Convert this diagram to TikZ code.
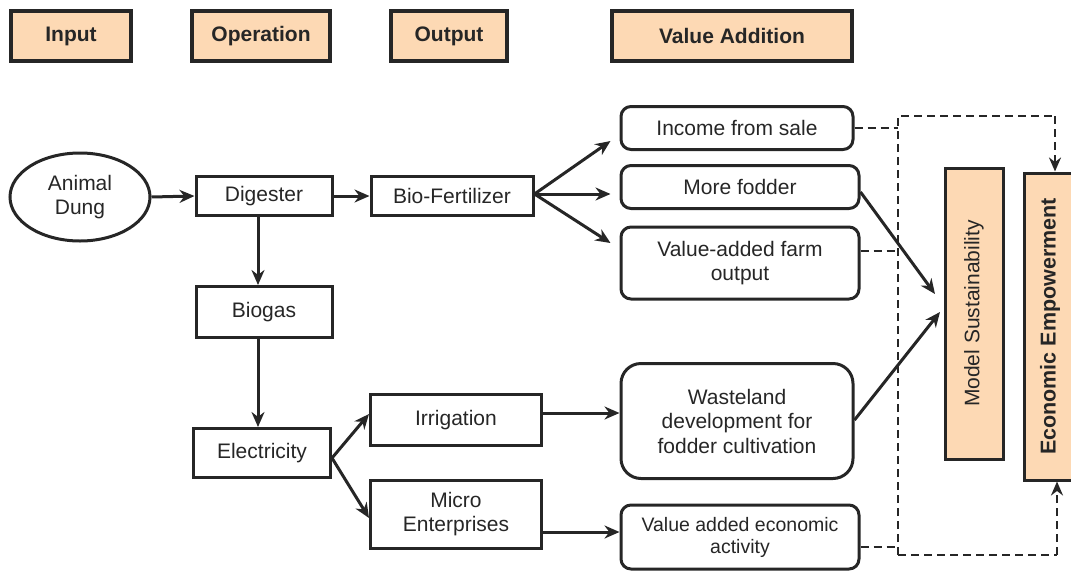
\documentclass[tikz,border=0pt]{standalone}
\usepackage{fontspec}
\setmainfont{Liberation Sans}
\usetikzlibrary{shapes.geometric,arrows.meta}
\definecolor{peach}{HTML}{FDD9B4}
\definecolor{ink}{HTML}{262626}
\tikzset{
  hdr/.style={draw=ink, line width=4pt, fill=peach, font=\fontsize{21}{24}\selectfont\bfseries, text=ink, inner sep=0pt},
  box/.style={draw=ink, line width=3pt, font=\fontsize{21}{24}\selectfont, text=ink, inner sep=0pt, align=center},
  rbox/.style={box, rounded corners=10pt},
  vbox/.style={draw=ink, line width=3pt, fill=peach, text=ink, inner sep=0pt},
  arr/.style={draw=ink, line width=3pt, -{Stealth[length=15pt,width=13pt]}},
  dsh/.style={draw=ink, line width=2.7pt, dash pattern=on 8pt off 5pt},
  darr/.style={dsh, -{Stealth[length=14pt,width=12pt]}},
}
\begin{document}
\begin{tikzpicture}[x=1pt,y=-1pt]
\useasboundingbox (0,0) rectangle (1071,571);
% headers
\node[hdr, minimum width=120pt, minimum height=50pt] (hin) at (71,36) {Input};
\node[hdr, minimum width=138pt, minimum height=50pt] (hop) at (261,36) {Operation};
\node[hdr, minimum width=116pt, minimum height=50pt] (hout) at (449,36) {Output};
\node[hdr, minimum width=240pt, minimum height=50pt] (hva) at (732,36) {Value Addition};
% left chain
\node[box, ellipse, minimum width=140pt, minimum height=88pt] (dung) at (80,197) {Animal\\Dung};
\node[box, minimum width=136pt, minimum height=39pt] (dig) at (264,196) {Digester};
\node[box, minimum width=162pt, minimum height=39pt] (bio) at (452,196) {Bio-Fertilizer};
\node[box, minimum width=136pt, minimum height=51pt] (gas) at (264,312) {Biogas};
\node[box, minimum width=137pt, minimum height=49pt] (ele) at (262,453) {Electricity};
\node[box, minimum width=171pt, minimum height=51pt] (irr) at (456,420) {Irrigation};
\node[box, minimum width=171pt, minimum height=68pt] (mic) at (456,514) {Micro\\Enterprises};
% value addition
\node[rbox, minimum width=232pt, minimum height=43pt] (inc) at (737,128) {Income from sale};
\node[rbox, minimum width=238pt, minimum height=43pt] (fod) at (740,187) {More fodder};
\node[rbox, minimum width=238pt, minimum height=72pt] (farm) at (740,263) {Value-added farm\\output};
\node[box, rounded corners=20pt, minimum width=232pt, minimum height=115pt, font=\fontsize{21}{24.5}\selectfont] (waste) at (737,421) {Wasteland\\development for\\fodder cultivation};
\node[rbox, minimum width=238pt, minimum height=64pt, font=\fontsize{19.5}{22}\selectfont] (vae) at (740,537) {Value added economic\\activity};
% vertical boxes
\node[vbox, minimum width=58pt, minimum height=291pt] (ms) at (974,313.5) {};
\node[rotate=90, font=\fontsize{21}{24}\selectfont, text=ink] (mslab) at (ms.center) {Model Sustainability};
\node[vbox, minimum width=62pt, minimum height=307pt] (ee) at (1055,326.5) {};
\node[rotate=90, font=\fontsize{21.5}{24}\selectfont\bfseries, text=ink] (eelab) at (1050,326.5) {Economic Empowerment};
% coordinates
\coordinate (dtop) at (898,116);
\coordinate (dbot) at (898,555);
\coordinate (eetop) at (1055,116);
\coordinate (eebot) at (1057,555);
\coordinate (msin1) at (935,294);
\coordinate (msin2) at (940,312);
% solid arrows
\draw[arr] (dung.east) -- (dig.west);
\draw[arr] (dig.east) -- (bio.west);
\draw[arr] (dig.south -| 258,0) -- (gas.north -| 258,0);
\draw[arr] (gas.south -| 258,0) -- (ele.north -| 258,0);
\draw[arr] (bio.east |- 0,194) -- ([xshift=-9pt]inc.west |- 0,141);
\draw[arr] (bio.east |- 0,194) -- ([xshift=-9pt]fod.west |- 0,194);
\draw[arr] (bio.east |- 0,194) -- ([xshift=-9pt]farm.west |- 0,243);
\draw[arr] (ele.east |- 0,458) -- (irr.west |- 0,414);
\draw[arr] (ele.east |- 0,458) -- (mic.west |- 0,518);
\draw[arr] (irr.east |- 0,413) -- (waste.west |- 0,413);
\draw[arr] (mic.east |- 0,532) -- (vae.west |- 0,532);
\draw[arr] (fod.east |- 0,192) -- (msin1);
\draw[arr] (waste.east |- 0,420) -- (msin2);
% dashed
\draw[dsh] (inc.east) -- (inc.east -| dtop);
\draw[dsh] (farm.east |- 0,251) -- (898,251);
\draw[dsh] (vae.east |- 0,547) -- (898,547);
\draw[dsh] (dbot) -- (dtop) -- (eetop);
\draw[darr] (eetop) -- (ee.north -| eetop);
\draw[dsh] (dbot) -- (eebot);
\draw[darr] (eebot) -- (ee.south -| eebot);
\end{tikzpicture}
\end{document}
